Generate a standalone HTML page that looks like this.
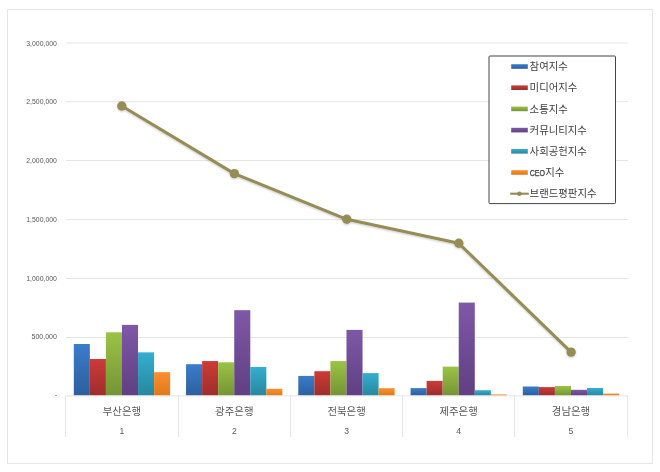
<!DOCTYPE html>
<html lang="ko"><head><meta charset="utf-8"><title>브랜드평판지수</title>
<style>html,body{margin:0;padding:0;background:#fff}svg{display:block}text{font-family:"Liberation Sans","Noto Sans CJK KR",sans-serif}</style></head><body>
<svg width="660" height="472" viewBox="0 0 660 472">
<defs>
<linearGradient id="b" x1="0" y1="0" x2="0" y2="1"><stop offset="0" stop-color="#3b7ccb"/><stop offset="1" stop-color="#2c5f9e"/></linearGradient>
<linearGradient id="r" x1="0" y1="0" x2="0" y2="1"><stop offset="0" stop-color="#cd3b38"/><stop offset="1" stop-color="#9e2d2b"/></linearGradient>
<linearGradient id="g" x1="0" y1="0" x2="0" y2="1"><stop offset="0" stop-color="#9ac346"/><stop offset="1" stop-color="#759434"/></linearGradient>
<linearGradient id="p" x1="0" y1="0" x2="0" y2="1"><stop offset="0" stop-color="#7f57a8"/><stop offset="1" stop-color="#5f4080"/></linearGradient>
<linearGradient id="c" x1="0" y1="0" x2="0" y2="1"><stop offset="0" stop-color="#34aecf"/><stop offset="1" stop-color="#27879f"/></linearGradient>
<linearGradient id="o" x1="0" y1="0" x2="0" y2="1"><stop offset="0" stop-color="#fb8e2d"/><stop offset="1" stop-color="#e07a1b"/></linearGradient>
<filter id="sh" x="-10%" y="-10%" width="120%" height="130%"><feGaussianBlur in="SourceAlpha" stdDeviation="0.9"/><feOffset dx="0" dy="1"/><feComponentTransfer><feFuncA type="linear" slope="0.22"/></feComponentTransfer><feMerge><feMergeNode/><feMergeNode in="SourceGraphic"/></feMerge></filter>
</defs>
<rect width="660" height="472" fill="#fff"/>
<rect x="7.5" y="9.5" width="645" height="454" fill="#fff" stroke="#e6e6e6" stroke-width="1"/>
<line x1="66" y1="43.0" x2="628" y2="43.0" stroke="#e5e5e5" stroke-width="1"/>
<line x1="66" y1="101.7" x2="628" y2="101.7" stroke="#e5e5e5" stroke-width="1"/>
<line x1="66" y1="160.5" x2="628" y2="160.5" stroke="#e5e5e5" stroke-width="1"/>
<line x1="66" y1="219.5" x2="628" y2="219.5" stroke="#e5e5e5" stroke-width="1"/>
<line x1="66" y1="278.5" x2="628" y2="278.5" stroke="#e5e5e5" stroke-width="1"/>
<line x1="66" y1="337.5" x2="628" y2="337.5" stroke="#e5e5e5" stroke-width="1"/>
<text x="26.3" y="45.6" font-size="7.6" fill="#555" textLength="30.6" lengthAdjust="spacingAndGlyphs">3,000,000</text>
<text x="26.3" y="104.3" font-size="7.6" fill="#555" textLength="30.6" lengthAdjust="spacingAndGlyphs">2,500,000</text>
<text x="26.3" y="163.1" font-size="7.6" fill="#555" textLength="30.6" lengthAdjust="spacingAndGlyphs">2,000,000</text>
<text x="26.3" y="222.0" font-size="7.6" fill="#555" textLength="30.6" lengthAdjust="spacingAndGlyphs">1,500,000</text>
<text x="26.3" y="280.8" font-size="7.6" fill="#555" textLength="30.6" lengthAdjust="spacingAndGlyphs">1,000,000</text>
<text x="31.5" y="338.8" font-size="7.6" fill="#555" textLength="25.4" lengthAdjust="spacingAndGlyphs">500,000</text>
<text x="57.2" y="396.9" font-size="7.6" fill="#555" text-anchor="end">-</text>
<rect x="73.80" y="344.00" width="16.06" height="51.50" fill="url(#b)"/>
<rect x="89.86" y="359.00" width="16.06" height="36.50" fill="url(#r)"/>
<rect x="105.92" y="332.30" width="16.06" height="63.20" fill="url(#g)"/>
<rect x="121.98" y="324.90" width="16.06" height="70.60" fill="url(#p)"/>
<rect x="138.04" y="352.35" width="16.06" height="43.15" fill="url(#c)"/>
<rect x="154.10" y="372.20" width="16.06" height="23.30" fill="url(#o)"/>
<rect x="186.05" y="364.20" width="16.06" height="31.30" fill="url(#b)"/>
<rect x="202.11" y="361.05" width="16.06" height="34.45" fill="url(#r)"/>
<rect x="218.17" y="362.30" width="16.06" height="33.20" fill="url(#g)"/>
<rect x="234.23" y="310.20" width="16.06" height="85.30" fill="url(#p)"/>
<rect x="250.29" y="367.00" width="16.06" height="28.50" fill="url(#c)"/>
<rect x="266.35" y="388.80" width="16.06" height="6.70" fill="url(#o)"/>
<rect x="298.30" y="375.90" width="16.06" height="19.60" fill="url(#b)"/>
<rect x="314.36" y="371.20" width="16.06" height="24.30" fill="url(#r)"/>
<rect x="330.42" y="361.05" width="16.06" height="34.45" fill="url(#g)"/>
<rect x="346.48" y="329.90" width="16.06" height="65.60" fill="url(#p)"/>
<rect x="362.54" y="373.10" width="16.06" height="22.40" fill="url(#c)"/>
<rect x="378.60" y="388.20" width="16.06" height="7.30" fill="url(#o)"/>
<rect x="410.55" y="388.10" width="16.06" height="7.40" fill="url(#b)"/>
<rect x="426.61" y="380.90" width="16.06" height="14.60" fill="url(#r)"/>
<rect x="442.67" y="366.65" width="16.06" height="28.85" fill="url(#g)"/>
<rect x="458.73" y="302.60" width="16.06" height="92.90" fill="url(#p)"/>
<rect x="474.79" y="390.20" width="16.06" height="5.30" fill="url(#c)"/>
<rect x="490.85" y="394.40" width="16.06" height="1.10" fill="url(#o)"/>
<rect x="522.80" y="386.50" width="16.06" height="9.00" fill="url(#b)"/>
<rect x="538.86" y="387.10" width="16.06" height="8.40" fill="url(#r)"/>
<rect x="554.92" y="386.00" width="16.06" height="9.50" fill="url(#g)"/>
<rect x="570.98" y="389.80" width="16.06" height="5.70" fill="url(#p)"/>
<rect x="587.04" y="388.00" width="16.06" height="7.50" fill="url(#c)"/>
<rect x="603.10" y="393.60" width="16.06" height="1.90" fill="url(#o)"/>
<line x1="65" y1="395.9" x2="628" y2="395.9" stroke="#e4e4e4" stroke-width="1"/>
<line x1="65.50" y1="395.5" x2="65.50" y2="437" stroke="#e7e7e7" stroke-width="1"/>
<line x1="178.50" y1="395.5" x2="178.50" y2="437" stroke="#e7e7e7" stroke-width="1"/>
<line x1="290.50" y1="395.5" x2="290.50" y2="437" stroke="#e7e7e7" stroke-width="1"/>
<line x1="402.50" y1="395.5" x2="402.50" y2="437" stroke="#e7e7e7" stroke-width="1"/>
<line x1="514.50" y1="395.5" x2="514.50" y2="437" stroke="#e7e7e7" stroke-width="1"/>
<line x1="627.50" y1="395.5" x2="627.50" y2="437" stroke="#e7e7e7" stroke-width="1"/>
<text x="102.7" y="414.8" font-size="9.9" fill="#595959" textLength="38.4" lengthAdjust="spacingAndGlyphs">부산은행</text>
<text x="121.9" y="434.0" font-size="8.6" fill="#595959" text-anchor="middle">1</text>
<text x="215.1" y="414.8" font-size="9.9" fill="#595959" textLength="38.4" lengthAdjust="spacingAndGlyphs">광주은행</text>
<text x="234.3" y="434.0" font-size="8.6" fill="#595959" text-anchor="middle">2</text>
<text x="327.4" y="414.8" font-size="9.9" fill="#595959" textLength="38.4" lengthAdjust="spacingAndGlyphs">전북은행</text>
<text x="346.6" y="434.0" font-size="8.6" fill="#595959" text-anchor="middle">3</text>
<text x="439.4" y="414.8" font-size="9.9" fill="#595959" textLength="38.4" lengthAdjust="spacingAndGlyphs">제주은행</text>
<text x="458.6" y="434.0" font-size="8.6" fill="#595959" text-anchor="middle">4</text>
<text x="551.8" y="414.8" font-size="9.9" fill="#595959" textLength="38.4" lengthAdjust="spacingAndGlyphs">경남은행</text>
<text x="571.0" y="434.0" font-size="8.6" fill="#595959" text-anchor="middle">5</text>
<g filter="url(#sh)"><path d="M121.8 106.0 L234.3 173.6 L346.8 219.3 L458.8 243.3 L571.1 352.1" fill="none" stroke="#968c55" stroke-width="3" stroke-linejoin="round" stroke-linecap="round"/>
<circle cx="121.8" cy="106.0" r="4.7" fill="#968c55"/>
<circle cx="234.3" cy="173.6" r="4.7" fill="#968c55"/>
<circle cx="346.8" cy="219.3" r="4.7" fill="#968c55"/>
<circle cx="458.8" cy="243.3" r="4.7" fill="#968c55"/>
<circle cx="571.1" cy="352.1" r="4.7" fill="#968c55"/>
</g>
<rect x="489" y="56" width="126.5" height="147.6" rx="1" fill="#fff" stroke="#454545" stroke-width="1"/>
<rect x="511.2" y="64.2" width="16.6" height="4.6" fill="url(#b)"/>
<text x="529.6" y="70.3" font-size="9.8" fill="#404040" textLength="38.2" lengthAdjust="spacingAndGlyphs">참여지수</text>
<rect x="511.2" y="85.4" width="16.6" height="4.6" fill="url(#r)"/>
<text x="529.6" y="91.4" font-size="9.8" fill="#404040" textLength="47.8" lengthAdjust="spacingAndGlyphs">미디어지수</text>
<rect x="511.2" y="106.6" width="16.6" height="4.6" fill="url(#g)"/>
<text x="529.6" y="112.5" font-size="9.8" fill="#404040" textLength="38.2" lengthAdjust="spacingAndGlyphs">소통지수</text>
<rect x="511.2" y="127.8" width="16.6" height="4.6" fill="url(#p)"/>
<text x="529.6" y="133.5" font-size="9.8" fill="#404040" textLength="57.3" lengthAdjust="spacingAndGlyphs">커뮤니티지수</text>
<rect x="511.2" y="149.0" width="16.6" height="4.6" fill="url(#c)"/>
<text x="529.6" y="154.6" font-size="9.8" fill="#404040" textLength="57.3" lengthAdjust="spacingAndGlyphs">사회공헌지수</text>
<rect x="511.2" y="170.2" width="16.6" height="4.6" fill="url(#o)"/>
<text x="529.8" y="175.6" font-size="8.2" fill="#404040" stroke="#404040" stroke-width="0.25" textLength="15.2" lengthAdjust="spacingAndGlyphs">CEO</text>
<text x="545.2" y="175.6" font-size="9.8" fill="#404040" textLength="19.1" lengthAdjust="spacingAndGlyphs">지수</text>
<line x1="510.2" y1="193.7" x2="528.8" y2="193.7" stroke="#948a54" stroke-width="2.1"/><circle cx="519.4" cy="193.7" r="2.3" fill="#948a54"/>
<text x="529.6" y="196.7" font-size="9.8" fill="#404040" textLength="66.9" lengthAdjust="spacingAndGlyphs">브랜드평판지수</text>
</svg></body></html>
